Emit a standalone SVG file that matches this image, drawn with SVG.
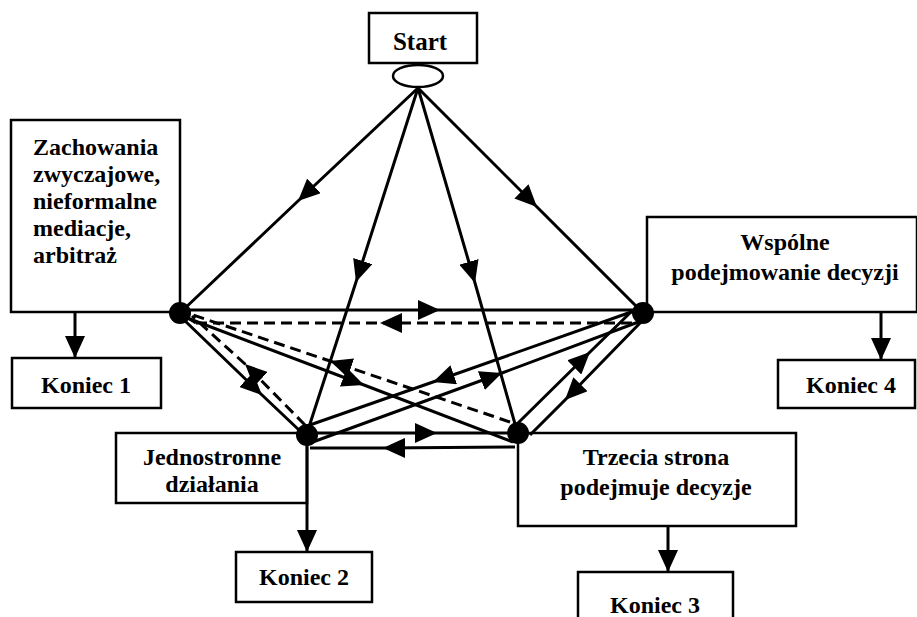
<svg xmlns="http://www.w3.org/2000/svg" width="917" height="617" viewBox="0 0 917 617">
<style>
.box{fill:#fff;stroke:#000;stroke-width:2.5}
.t{font-family:"Liberation Serif","Times New Roman",serif;font-weight:bold;font-size:24px;fill:#000}
.c{text-anchor:middle}
.e{fill:none;stroke:#000;stroke-width:3;marker-mid:url(#ah)}
.d{fill:none;stroke:#000;stroke-width:3;stroke-dasharray:11 6;marker-mid:url(#ah)}
.end{fill:none;stroke:#000;stroke-width:3;marker-end:url(#ah)}
.dot{fill:#000}
</style>
<defs>
<marker id="ah" markerUnits="userSpaceOnUse" viewBox="0 0 22 20" refX="22" refY="10" markerWidth="22" markerHeight="20" orient="auto">
<path d="M0,0 L22,10 L0,20 z" fill="#000"/>
</marker>
</defs>

<g id="start">
<rect class="box" x="369" y="13" width="108" height="50"/>
<text class="t c" x="420" y="50" style="font-size:25px">Start</text>
<ellipse cx="418" cy="76" rx="25" ry="11" fill="#fff" stroke="#000" stroke-width="2.5"/>
</g>

<g id="zachowania">
<rect class="box" x="11" y="120" width="169" height="192"/>
<text class="t" x="33" y="155">Zachowania</text>
<text class="t" x="33" y="182">zwyczajowe,</text>
<text class="t" x="33" y="209">nieformalne</text>
<text class="t" x="33" y="236">mediacje,</text>
<text class="t" x="33" y="263">arbitraż</text>
</g>

<g id="wspolne">
<rect class="box" x="647" y="217" width="270" height="95"/>
<text class="t c" x="785" y="250">Wspólne</text>
<text class="t c" x="785" y="280">podejmowanie decyzji</text>
</g>

<g id="jednostronne">
<rect class="box" x="116" y="433" width="191" height="70"/>
<text class="t c" x="212" y="465">Jednostronne</text>
<text class="t c" x="212" y="492">działania</text>
</g>

<g id="trzecia">
<rect class="box" x="518" y="433" width="278" height="93"/>
<text class="t c" x="656" y="465">Trzecia strona</text>
<text class="t c" x="656" y="495">podejmuje decyzje</text>
</g>

<g id="koniec1">
<rect class="box" x="12" y="358" width="149" height="50"/>
<text class="t c" x="86" y="393">Koniec 1</text>
</g>
<g id="koniec2">
<rect class="box" x="236" y="552" width="136" height="50"/>
<text class="t c" x="304" y="585">Koniec 2</text>
</g>
<g id="koniec3">
<rect class="box" x="578" y="572" width="155" height="60"/>
<text class="t c" x="655" y="613">Koniec 3</text>
</g>
<g id="koniec4">
<rect class="box" x="778" y="360" width="137" height="48"/>
<text class="t c" x="851" y="393">Koniec 4</text>
</g>

<g id="connectors">
<path class="e" d="M418,88 L298,201 L182,311"/>
<path class="e" d="M418,88 L356,282 L307,433"/>
<path class="e" d="M418,88 L475,283 L517,431"/>
<path class="e" d="M418,88 L537,207 L641,311"/>
<path class="e" d="M182,310 L440,310 L641,310"/>
<path class="d" d="M632,323 L380,323 L196,323"/>
<path d="M196,323 L185,316" fill="none" stroke="#000" stroke-width="3"/>
<path class="e" d="M182,316 L364,385 L513,442"/>
<path class="d" d="M510,422 L330,361 L193,315"/>
<path class="e" d="M182,318 L262,395 L299,430"/>
<path class="d" d="M305,425 L245,364 L192,316"/>
<path class="e" d="M634,311 L433,382 L307,426"/>
<path class="e" d="M310,443 L502,373 L641,321"/>
<path class="e" d="M517,424 L590,352 L632,311"/>
<path class="e" d="M641,322 L565,400 L530,435"/>
<path class="e" d="M307,433 L437,433 L518,433"/>
<path class="e" d="M515,447 L383,448 L310,448"/>
<path class="end" d="M75,312 L75,358"/>
<path class="end" d="M307,435 L307,552"/>
<path class="end" d="M668,526 L668,572"/>
<path class="end" d="M881,312 L881,360"/>
</g>

<g id="dots">
<circle class="dot" cx="180" cy="313" r="11"/>
<circle class="dot" cx="643" cy="313" r="11"/>
<circle class="dot" cx="307" cy="435" r="11"/>
<circle class="dot" cx="518" cy="433" r="11"/>
</g>
</svg>
